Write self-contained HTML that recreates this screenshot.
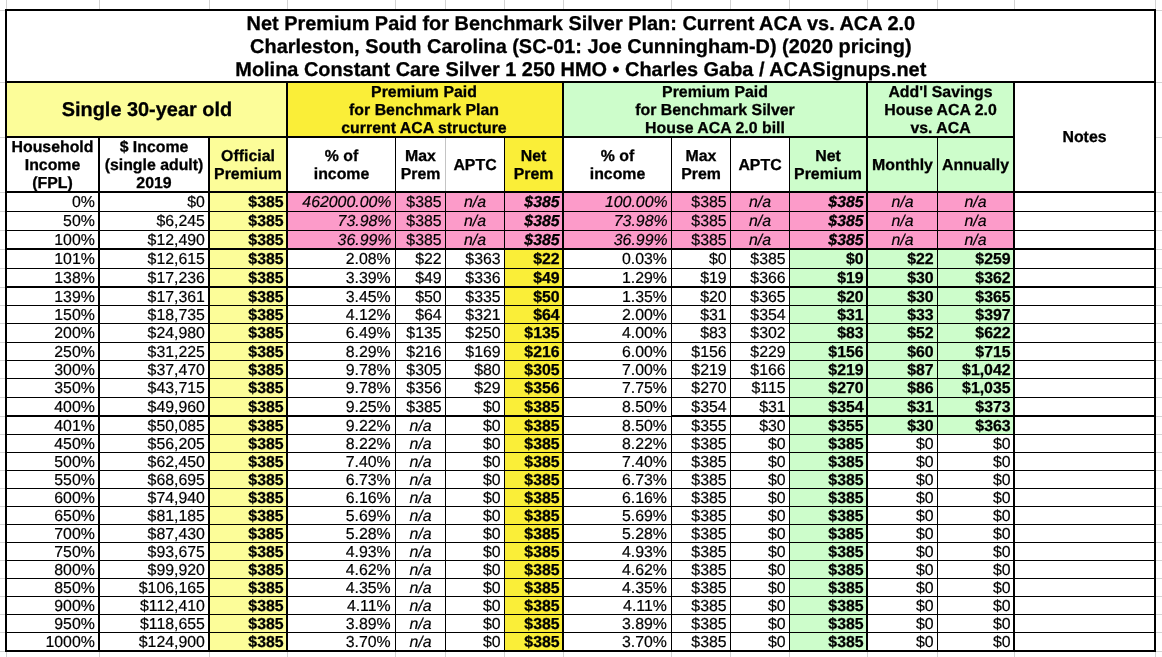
<!DOCTYPE html>
<html><head><meta charset="utf-8"><title>ACA 2.0 table</title>
<style>
html,body{margin:0;padding:0;background:#fff;}
body{width:1162px;height:657px;position:relative;overflow:hidden;font-family:"Liberation Sans",sans-serif;color:#000;}
svg{position:absolute;left:0;top:0;shape-rendering:crispEdges;}
#tx{position:absolute;left:0;top:0;width:1162px;height:657px;will-change:transform;}
.t{position:absolute;white-space:nowrap;text-rendering:geometricPrecision;-webkit-text-stroke:0.2px #000;}
.b{font-weight:bold;-webkit-text-stroke:0.3px #000;}
.i{font-style:italic;}
.bi{font-weight:bold;font-style:italic;-webkit-text-stroke:0.3px #000;}
</style></head><body>
<svg width="1162" height="657" viewBox="0 0 1162 657">
<rect x="6" y="0" width="1" height="657" fill="#d2d2d2"/>
<rect x="99" y="0" width="1" height="657" fill="#d2d2d2"/>
<rect x="209" y="0" width="1" height="657" fill="#d2d2d2"/>
<rect x="287" y="0" width="1" height="657" fill="#d2d2d2"/>
<rect x="395" y="0" width="1" height="657" fill="#d2d2d2"/>
<rect x="445" y="0" width="1" height="657" fill="#d2d2d2"/>
<rect x="504" y="0" width="1" height="657" fill="#d2d2d2"/>
<rect x="563" y="0" width="1" height="657" fill="#d2d2d2"/>
<rect x="671" y="0" width="1" height="657" fill="#d2d2d2"/>
<rect x="730" y="0" width="1" height="657" fill="#d2d2d2"/>
<rect x="789" y="0" width="1" height="657" fill="#d2d2d2"/>
<rect x="867" y="0" width="1" height="657" fill="#d2d2d2"/>
<rect x="937" y="0" width="1" height="657" fill="#d2d2d2"/>
<rect x="1014" y="0" width="1" height="657" fill="#d2d2d2"/>
<rect x="1155" y="0" width="1" height="657" fill="#d2d2d2"/>
<rect x="0" y="10" width="1162" height="1" fill="#d2d2d2"/>
<rect x="0" y="82" width="1162" height="1" fill="#d2d2d2"/>
<rect x="0" y="137" width="1162" height="1" fill="#d2d2d2"/>
<rect x="0" y="192" width="1162" height="1" fill="#d2d2d2"/>
<rect x="0" y="211" width="1162" height="1" fill="#d2d2d2"/>
<rect x="0" y="230" width="1162" height="1" fill="#d2d2d2"/>
<rect x="0" y="249" width="1162" height="1" fill="#d2d2d2"/>
<rect x="0" y="268" width="1162" height="1" fill="#d2d2d2"/>
<rect x="0" y="287" width="1162" height="1" fill="#d2d2d2"/>
<rect x="0" y="305" width="1162" height="1" fill="#d2d2d2"/>
<rect x="0" y="323" width="1162" height="1" fill="#d2d2d2"/>
<rect x="0" y="342" width="1162" height="1" fill="#d2d2d2"/>
<rect x="0" y="360" width="1162" height="1" fill="#d2d2d2"/>
<rect x="0" y="378" width="1162" height="1" fill="#d2d2d2"/>
<rect x="0" y="397" width="1162" height="1" fill="#d2d2d2"/>
<rect x="0" y="416" width="1162" height="1" fill="#d2d2d2"/>
<rect x="0" y="434" width="1162" height="1" fill="#d2d2d2"/>
<rect x="0" y="452" width="1162" height="1" fill="#d2d2d2"/>
<rect x="0" y="470" width="1162" height="1" fill="#d2d2d2"/>
<rect x="0" y="488" width="1162" height="1" fill="#d2d2d2"/>
<rect x="0" y="506" width="1162" height="1" fill="#d2d2d2"/>
<rect x="0" y="524" width="1162" height="1" fill="#d2d2d2"/>
<rect x="0" y="542" width="1162" height="1" fill="#d2d2d2"/>
<rect x="0" y="560" width="1162" height="1" fill="#d2d2d2"/>
<rect x="0" y="578" width="1162" height="1" fill="#d2d2d2"/>
<rect x="0" y="596" width="1162" height="1" fill="#d2d2d2"/>
<rect x="0" y="614" width="1162" height="1" fill="#d2d2d2"/>
<rect x="0" y="632" width="1162" height="1" fill="#d2d2d2"/>
<rect x="0" y="651" width="1162" height="1" fill="#d2d2d2"/>
<rect x="5" y="9" width="1151" height="643" fill="#fff"/>
<rect x="7" y="83" width="281" height="55" fill="#FCFD99"/>
<rect x="288" y="83" width="276" height="55" fill="#FAEE38"/>
<rect x="564" y="83" width="451" height="55" fill="#CDFDCB"/>
<rect x="210" y="138" width="78" height="514" fill="#FCFD99"/>
<rect x="505" y="138" width="59" height="514" fill="#FAEE38"/>
<rect x="790" y="138" width="225" height="55" fill="#CDFDCB"/>
<rect x="790" y="193" width="78" height="459" fill="#CDFDCB"/>
<rect x="868" y="250" width="147" height="185" fill="#CDFDCB"/>
<rect x="288" y="193" width="727" height="57" fill="#FC9BC9"/>
<rect x="445" y="138" width="1" height="55" fill="#c4c4c4"/>
<rect x="5" y="211" width="1151" height="1" fill="#000"/>
<rect x="5" y="230" width="1151" height="1" fill="#000"/>
<rect x="5" y="248" width="1151" height="2" fill="#000"/>
<rect x="5" y="268" width="1151" height="1" fill="#000"/>
<rect x="5" y="286" width="1151" height="2" fill="#000"/>
<rect x="5" y="305" width="1151" height="1" fill="#000"/>
<rect x="5" y="323" width="1151" height="1" fill="#000"/>
<rect x="5" y="342" width="1151" height="1" fill="#000"/>
<rect x="5" y="360" width="1151" height="1" fill="#000"/>
<rect x="5" y="378" width="1151" height="1" fill="#000"/>
<rect x="5" y="397" width="1151" height="1" fill="#000"/>
<rect x="5" y="415" width="1151" height="2" fill="#000"/>
<rect x="5" y="434" width="1151" height="1" fill="#000"/>
<rect x="5" y="452" width="1151" height="1" fill="#000"/>
<rect x="5" y="470" width="1151" height="1" fill="#000"/>
<rect x="5" y="488" width="1151" height="1" fill="#000"/>
<rect x="5" y="506" width="1151" height="1" fill="#000"/>
<rect x="5" y="524" width="1151" height="1" fill="#000"/>
<rect x="5" y="542" width="1151" height="1" fill="#000"/>
<rect x="5" y="560" width="1151" height="1" fill="#000"/>
<rect x="5" y="578" width="1151" height="1" fill="#000"/>
<rect x="5" y="596" width="1151" height="1" fill="#000"/>
<rect x="5" y="614" width="1151" height="1" fill="#000"/>
<rect x="5" y="632" width="1151" height="1" fill="#000"/>
<rect x="564" y="415" width="107" height="1" fill="#fff"/>
<rect x="5" y="191" width="1151" height="2" fill="#000"/>
<rect x="5" y="136" width="1010" height="2" fill="#000"/>
<rect x="5" y="81" width="1151" height="2" fill="#000"/>
<rect x="5" y="9" width="1151" height="2" fill="#000"/>
<rect x="5" y="650" width="1151" height="2" fill="#000"/>
<rect x="98" y="138" width="2" height="514" fill="#000"/>
<rect x="208" y="138" width="2" height="514" fill="#000"/>
<rect x="395" y="138" width="1" height="514" fill="#000"/>
<rect x="504" y="138" width="1" height="514" fill="#000"/>
<rect x="671" y="138" width="1" height="514" fill="#000"/>
<rect x="730" y="138" width="1" height="514" fill="#000"/>
<rect x="789" y="138" width="1" height="514" fill="#000"/>
<rect x="937" y="138" width="1" height="514" fill="#000"/>
<rect x="445" y="193" width="1" height="459" fill="#000"/>
<rect x="286" y="83" width="2" height="569" fill="#000"/>
<rect x="562" y="83" width="2" height="569" fill="#000"/>
<rect x="866" y="83" width="2" height="569" fill="#000"/>
<rect x="1013" y="83" width="2" height="569" fill="#000"/>
<rect x="5" y="9" width="2" height="643" fill="#000"/>
<rect x="1154" y="9" width="2" height="643" fill="#000"/>
</svg>
<div id="tx">
<div class="t b" style="left:-219.20px;width:1600px;top:13px;font-size:19.92px;line-height:23px;text-align:center">Net Premium Paid for Benchmark Silver Plan: Current ACA vs. ACA 2.0</div>
<div class="t b" style="left:-219.20px;width:1600px;top:36px;font-size:19.92px;line-height:23px;text-align:center">Charleston, South Carolina (SC-01: Joe Cunningham-D) (2020 pricing)</div>
<div class="t b" style="left:-219.20px;width:1600px;top:59px;font-size:19.92px;line-height:23px;text-align:center">Molina Constant Care Silver 1 250 HMO • Charles Gaba / ACASignups.net</div>
<div class="t b" style="left:-653.10px;width:1600px;top:99px;font-size:19.92px;line-height:23px;text-align:center">Single 30-year old</div>
<div class="t b" style="left:-376.00px;width:1600px;top:84px;font-size:15.87px;line-height:18px;text-align:center">Premium Paid</div>
<div class="t b" style="left:-376.00px;width:1600px;top:102px;font-size:15.87px;line-height:18px;text-align:center">for Benchmark Plan</div>
<div class="t b" style="left:-376.00px;width:1600px;top:120px;font-size:15.87px;line-height:18px;text-align:center">current ACA structure</div>
<div class="t b" style="left:-85.00px;width:1600px;top:84px;font-size:15.87px;line-height:18px;text-align:center">Premium Paid</div>
<div class="t b" style="left:-85.00px;width:1600px;top:102px;font-size:15.87px;line-height:18px;text-align:center">for Benchmark Silver</div>
<div class="t b" style="left:-85.00px;width:1600px;top:120px;font-size:15.87px;line-height:18px;text-align:center">House ACA 2.0 bill</div>
<div class="t b" style="left:140.50px;width:1600px;top:84px;font-size:15.87px;line-height:18px;text-align:center">Add'l Savings</div>
<div class="t b" style="left:140.50px;width:1600px;top:102px;font-size:15.87px;line-height:18px;text-align:center">House ACA 2.0</div>
<div class="t b" style="left:140.50px;width:1600px;top:120px;font-size:15.87px;line-height:18px;text-align:center">vs. ACA</div>
<div class="t b" style="left:-747.50px;width:1600px;top:139px;font-size:15.87px;line-height:18px;text-align:center">Household</div>
<div class="t b" style="left:-747.50px;width:1600px;top:157px;font-size:15.87px;line-height:18px;text-align:center">Income</div>
<div class="t b" style="left:-747.50px;width:1600px;top:175px;font-size:15.87px;line-height:18px;text-align:center">(FPL)</div>
<div class="t b" style="left:-646.00px;width:1600px;top:139px;font-size:15.87px;line-height:18px;text-align:center">$ Income</div>
<div class="t b" style="left:-646.00px;width:1600px;top:157px;font-size:15.87px;line-height:18px;text-align:center">(single adult)</div>
<div class="t b" style="left:-646.00px;width:1600px;top:175px;font-size:15.87px;line-height:18px;text-align:center">2019</div>
<div class="t b" style="left:-552.00px;width:1600px;top:148px;font-size:15.87px;line-height:18px;text-align:center">Official</div>
<div class="t b" style="left:-552.00px;width:1600px;top:166px;font-size:15.87px;line-height:18px;text-align:center">Premium</div>
<div class="t b" style="left:-458.50px;width:1600px;top:148px;font-size:15.87px;line-height:18px;text-align:center">% of</div>
<div class="t b" style="left:-458.50px;width:1600px;top:166px;font-size:15.87px;line-height:18px;text-align:center">income</div>
<div class="t b" style="left:-379.50px;width:1600px;top:148px;font-size:15.87px;line-height:18px;text-align:center">Max</div>
<div class="t b" style="left:-379.50px;width:1600px;top:166px;font-size:15.87px;line-height:18px;text-align:center">Prem</div>
<div class="t b" style="left:-325.00px;width:1600px;top:157px;font-size:15.87px;line-height:18px;text-align:center">APTC</div>
<div class="t b" style="left:-266.50px;width:1600px;top:148px;font-size:15.87px;line-height:18px;text-align:center">Net</div>
<div class="t b" style="left:-266.50px;width:1600px;top:166px;font-size:15.87px;line-height:18px;text-align:center">Prem</div>
<div class="t b" style="left:-182.50px;width:1600px;top:148px;font-size:15.87px;line-height:18px;text-align:center">% of</div>
<div class="t b" style="left:-182.50px;width:1600px;top:166px;font-size:15.87px;line-height:18px;text-align:center">income</div>
<div class="t b" style="left:-99.00px;width:1600px;top:148px;font-size:15.87px;line-height:18px;text-align:center">Max</div>
<div class="t b" style="left:-99.00px;width:1600px;top:166px;font-size:15.87px;line-height:18px;text-align:center">Prem</div>
<div class="t b" style="left:-40.00px;width:1600px;top:157px;font-size:15.87px;line-height:18px;text-align:center">APTC</div>
<div class="t b" style="left:28.00px;width:1600px;top:148px;font-size:15.87px;line-height:18px;text-align:center">Net</div>
<div class="t b" style="left:28.00px;width:1600px;top:166px;font-size:15.87px;line-height:18px;text-align:center">Premium</div>
<div class="t b" style="left:102.50px;width:1600px;top:157px;font-size:15.87px;line-height:18px;text-align:center">Monthly</div>
<div class="t b" style="left:175.50px;width:1600px;top:157px;font-size:15.87px;line-height:18px;text-align:center">Annually</div>
<div class="t b" style="left:284.50px;width:1600px;top:129px;font-size:15.87px;line-height:18px;text-align:center">Notes</div>
<div class="t r" style="left:-205.20px;width:300px;top:194px;font-size:15.87px;line-height:18px;text-align:right">0%</div>
<div class="t r" style="left:-95.10px;width:300px;top:194px;font-size:15.87px;line-height:18px;text-align:right">$0</div>
<div class="t b" style="left:-16.40px;width:300px;top:194px;font-size:15.87px;line-height:18px;text-align:right">$385</div>
<div class="t i" style="left:91.40px;width:300px;top:194px;font-size:15.87px;line-height:18px;text-align:right">462000.00%</div>
<div class="t r" style="left:141.60px;width:300px;top:194px;font-size:15.87px;line-height:18px;text-align:right">$385</div>
<div class="t i" style="left:-325.00px;width:1600px;top:194px;font-size:15.87px;line-height:18px;text-align:center">n/a</div>
<div class="t bi" style="left:259.60px;width:300px;top:194px;font-size:15.87px;line-height:18px;text-align:right">$385</div>
<div class="t i" style="left:367.60px;width:300px;top:194px;font-size:15.87px;line-height:18px;text-align:right">100.00%</div>
<div class="t r" style="left:426.60px;width:300px;top:194px;font-size:15.87px;line-height:18px;text-align:right">$385</div>
<div class="t i" style="left:-40.00px;width:1600px;top:194px;font-size:15.87px;line-height:18px;text-align:center">n/a</div>
<div class="t bi" style="left:563.60px;width:300px;top:194px;font-size:15.87px;line-height:18px;text-align:right">$385</div>
<div class="t i" style="left:102.50px;width:1600px;top:194px;font-size:15.87px;line-height:18px;text-align:center">n/a</div>
<div class="t i" style="left:175.50px;width:1600px;top:194px;font-size:15.87px;line-height:18px;text-align:center">n/a</div>
<div class="t r" style="left:-205.20px;width:300px;top:213px;font-size:15.87px;line-height:18px;text-align:right">50%</div>
<div class="t r" style="left:-95.10px;width:300px;top:213px;font-size:15.87px;line-height:18px;text-align:right">$6,245</div>
<div class="t b" style="left:-16.40px;width:300px;top:213px;font-size:15.87px;line-height:18px;text-align:right">$385</div>
<div class="t i" style="left:91.40px;width:300px;top:213px;font-size:15.87px;line-height:18px;text-align:right">73.98%</div>
<div class="t r" style="left:141.60px;width:300px;top:213px;font-size:15.87px;line-height:18px;text-align:right">$385</div>
<div class="t i" style="left:-325.00px;width:1600px;top:213px;font-size:15.87px;line-height:18px;text-align:center">n/a</div>
<div class="t bi" style="left:259.60px;width:300px;top:213px;font-size:15.87px;line-height:18px;text-align:right">$385</div>
<div class="t i" style="left:367.60px;width:300px;top:213px;font-size:15.87px;line-height:18px;text-align:right">73.98%</div>
<div class="t r" style="left:426.60px;width:300px;top:213px;font-size:15.87px;line-height:18px;text-align:right">$385</div>
<div class="t i" style="left:-40.00px;width:1600px;top:213px;font-size:15.87px;line-height:18px;text-align:center">n/a</div>
<div class="t bi" style="left:563.60px;width:300px;top:213px;font-size:15.87px;line-height:18px;text-align:right">$385</div>
<div class="t i" style="left:102.50px;width:1600px;top:213px;font-size:15.87px;line-height:18px;text-align:center">n/a</div>
<div class="t i" style="left:175.50px;width:1600px;top:213px;font-size:15.87px;line-height:18px;text-align:center">n/a</div>
<div class="t r" style="left:-205.20px;width:300px;top:232px;font-size:15.87px;line-height:18px;text-align:right">100%</div>
<div class="t r" style="left:-95.10px;width:300px;top:232px;font-size:15.87px;line-height:18px;text-align:right">$12,490</div>
<div class="t b" style="left:-16.40px;width:300px;top:232px;font-size:15.87px;line-height:18px;text-align:right">$385</div>
<div class="t i" style="left:91.40px;width:300px;top:232px;font-size:15.87px;line-height:18px;text-align:right">36.99%</div>
<div class="t r" style="left:141.60px;width:300px;top:232px;font-size:15.87px;line-height:18px;text-align:right">$385</div>
<div class="t i" style="left:-325.00px;width:1600px;top:232px;font-size:15.87px;line-height:18px;text-align:center">n/a</div>
<div class="t bi" style="left:259.60px;width:300px;top:232px;font-size:15.87px;line-height:18px;text-align:right">$385</div>
<div class="t i" style="left:367.60px;width:300px;top:232px;font-size:15.87px;line-height:18px;text-align:right">36.99%</div>
<div class="t r" style="left:426.60px;width:300px;top:232px;font-size:15.87px;line-height:18px;text-align:right">$385</div>
<div class="t i" style="left:-40.00px;width:1600px;top:232px;font-size:15.87px;line-height:18px;text-align:center">n/a</div>
<div class="t bi" style="left:563.60px;width:300px;top:232px;font-size:15.87px;line-height:18px;text-align:right">$385</div>
<div class="t i" style="left:102.50px;width:1600px;top:232px;font-size:15.87px;line-height:18px;text-align:center">n/a</div>
<div class="t i" style="left:175.50px;width:1600px;top:232px;font-size:15.87px;line-height:18px;text-align:center">n/a</div>
<div class="t r" style="left:-205.20px;width:300px;top:251px;font-size:15.87px;line-height:18px;text-align:right">101%</div>
<div class="t r" style="left:-95.10px;width:300px;top:251px;font-size:15.87px;line-height:18px;text-align:right">$12,615</div>
<div class="t b" style="left:-16.40px;width:300px;top:251px;font-size:15.87px;line-height:18px;text-align:right">$385</div>
<div class="t r" style="left:90.70px;width:300px;top:251px;font-size:15.87px;line-height:18px;text-align:right">2.08%</div>
<div class="t r" style="left:141.60px;width:300px;top:251px;font-size:15.87px;line-height:18px;text-align:right">$22</div>
<div class="t r" style="left:200.60px;width:300px;top:251px;font-size:15.87px;line-height:18px;text-align:right">$363</div>
<div class="t b" style="left:259.60px;width:300px;top:251px;font-size:15.87px;line-height:18px;text-align:right">$22</div>
<div class="t r" style="left:366.90px;width:300px;top:251px;font-size:15.87px;line-height:18px;text-align:right">0.03%</div>
<div class="t r" style="left:426.60px;width:300px;top:251px;font-size:15.87px;line-height:18px;text-align:right">$0</div>
<div class="t r" style="left:485.60px;width:300px;top:251px;font-size:15.87px;line-height:18px;text-align:right">$385</div>
<div class="t b" style="left:563.60px;width:300px;top:251px;font-size:15.87px;line-height:18px;text-align:right">$0</div>
<div class="t b" style="left:633.60px;width:300px;top:251px;font-size:15.87px;line-height:18px;text-align:right">$22</div>
<div class="t b" style="left:710.60px;width:300px;top:251px;font-size:15.87px;line-height:18px;text-align:right">$259</div>
<div class="t r" style="left:-205.20px;width:300px;top:270px;font-size:15.87px;line-height:18px;text-align:right">138%</div>
<div class="t r" style="left:-95.10px;width:300px;top:270px;font-size:15.87px;line-height:18px;text-align:right">$17,236</div>
<div class="t b" style="left:-16.40px;width:300px;top:270px;font-size:15.87px;line-height:18px;text-align:right">$385</div>
<div class="t r" style="left:90.70px;width:300px;top:270px;font-size:15.87px;line-height:18px;text-align:right">3.39%</div>
<div class="t r" style="left:141.60px;width:300px;top:270px;font-size:15.87px;line-height:18px;text-align:right">$49</div>
<div class="t r" style="left:200.60px;width:300px;top:270px;font-size:15.87px;line-height:18px;text-align:right">$336</div>
<div class="t b" style="left:259.60px;width:300px;top:270px;font-size:15.87px;line-height:18px;text-align:right">$49</div>
<div class="t r" style="left:366.90px;width:300px;top:270px;font-size:15.87px;line-height:18px;text-align:right">1.29%</div>
<div class="t r" style="left:426.60px;width:300px;top:270px;font-size:15.87px;line-height:18px;text-align:right">$19</div>
<div class="t r" style="left:485.60px;width:300px;top:270px;font-size:15.87px;line-height:18px;text-align:right">$366</div>
<div class="t b" style="left:563.60px;width:300px;top:270px;font-size:15.87px;line-height:18px;text-align:right">$19</div>
<div class="t b" style="left:633.60px;width:300px;top:270px;font-size:15.87px;line-height:18px;text-align:right">$30</div>
<div class="t b" style="left:710.60px;width:300px;top:270px;font-size:15.87px;line-height:18px;text-align:right">$362</div>
<div class="t r" style="left:-205.20px;width:300px;top:289px;font-size:15.87px;line-height:18px;text-align:right">139%</div>
<div class="t r" style="left:-95.10px;width:300px;top:289px;font-size:15.87px;line-height:18px;text-align:right">$17,361</div>
<div class="t b" style="left:-16.40px;width:300px;top:289px;font-size:15.87px;line-height:18px;text-align:right">$385</div>
<div class="t r" style="left:90.70px;width:300px;top:289px;font-size:15.87px;line-height:18px;text-align:right">3.45%</div>
<div class="t r" style="left:141.60px;width:300px;top:289px;font-size:15.87px;line-height:18px;text-align:right">$50</div>
<div class="t r" style="left:200.60px;width:300px;top:289px;font-size:15.87px;line-height:18px;text-align:right">$335</div>
<div class="t b" style="left:259.60px;width:300px;top:289px;font-size:15.87px;line-height:18px;text-align:right">$50</div>
<div class="t r" style="left:366.90px;width:300px;top:289px;font-size:15.87px;line-height:18px;text-align:right">1.35%</div>
<div class="t r" style="left:426.60px;width:300px;top:289px;font-size:15.87px;line-height:18px;text-align:right">$20</div>
<div class="t r" style="left:485.60px;width:300px;top:289px;font-size:15.87px;line-height:18px;text-align:right">$365</div>
<div class="t b" style="left:563.60px;width:300px;top:289px;font-size:15.87px;line-height:18px;text-align:right">$20</div>
<div class="t b" style="left:633.60px;width:300px;top:289px;font-size:15.87px;line-height:18px;text-align:right">$30</div>
<div class="t b" style="left:710.60px;width:300px;top:289px;font-size:15.87px;line-height:18px;text-align:right">$365</div>
<div class="t r" style="left:-205.20px;width:300px;top:307px;font-size:15.87px;line-height:18px;text-align:right">150%</div>
<div class="t r" style="left:-95.10px;width:300px;top:307px;font-size:15.87px;line-height:18px;text-align:right">$18,735</div>
<div class="t b" style="left:-16.40px;width:300px;top:307px;font-size:15.87px;line-height:18px;text-align:right">$385</div>
<div class="t r" style="left:90.70px;width:300px;top:307px;font-size:15.87px;line-height:18px;text-align:right">4.12%</div>
<div class="t r" style="left:141.60px;width:300px;top:307px;font-size:15.87px;line-height:18px;text-align:right">$64</div>
<div class="t r" style="left:200.60px;width:300px;top:307px;font-size:15.87px;line-height:18px;text-align:right">$321</div>
<div class="t b" style="left:259.60px;width:300px;top:307px;font-size:15.87px;line-height:18px;text-align:right">$64</div>
<div class="t r" style="left:366.90px;width:300px;top:307px;font-size:15.87px;line-height:18px;text-align:right">2.00%</div>
<div class="t r" style="left:426.60px;width:300px;top:307px;font-size:15.87px;line-height:18px;text-align:right">$31</div>
<div class="t r" style="left:485.60px;width:300px;top:307px;font-size:15.87px;line-height:18px;text-align:right">$354</div>
<div class="t b" style="left:563.60px;width:300px;top:307px;font-size:15.87px;line-height:18px;text-align:right">$31</div>
<div class="t b" style="left:633.60px;width:300px;top:307px;font-size:15.87px;line-height:18px;text-align:right">$33</div>
<div class="t b" style="left:710.60px;width:300px;top:307px;font-size:15.87px;line-height:18px;text-align:right">$397</div>
<div class="t r" style="left:-205.20px;width:300px;top:325px;font-size:15.87px;line-height:18px;text-align:right">200%</div>
<div class="t r" style="left:-95.10px;width:300px;top:325px;font-size:15.87px;line-height:18px;text-align:right">$24,980</div>
<div class="t b" style="left:-16.40px;width:300px;top:325px;font-size:15.87px;line-height:18px;text-align:right">$385</div>
<div class="t r" style="left:90.70px;width:300px;top:325px;font-size:15.87px;line-height:18px;text-align:right">6.49%</div>
<div class="t r" style="left:141.60px;width:300px;top:325px;font-size:15.87px;line-height:18px;text-align:right">$135</div>
<div class="t r" style="left:200.60px;width:300px;top:325px;font-size:15.87px;line-height:18px;text-align:right">$250</div>
<div class="t b" style="left:259.60px;width:300px;top:325px;font-size:15.87px;line-height:18px;text-align:right">$135</div>
<div class="t r" style="left:366.90px;width:300px;top:325px;font-size:15.87px;line-height:18px;text-align:right">4.00%</div>
<div class="t r" style="left:426.60px;width:300px;top:325px;font-size:15.87px;line-height:18px;text-align:right">$83</div>
<div class="t r" style="left:485.60px;width:300px;top:325px;font-size:15.87px;line-height:18px;text-align:right">$302</div>
<div class="t b" style="left:563.60px;width:300px;top:325px;font-size:15.87px;line-height:18px;text-align:right">$83</div>
<div class="t b" style="left:633.60px;width:300px;top:325px;font-size:15.87px;line-height:18px;text-align:right">$52</div>
<div class="t b" style="left:710.60px;width:300px;top:325px;font-size:15.87px;line-height:18px;text-align:right">$622</div>
<div class="t r" style="left:-205.20px;width:300px;top:344px;font-size:15.87px;line-height:18px;text-align:right">250%</div>
<div class="t r" style="left:-95.10px;width:300px;top:344px;font-size:15.87px;line-height:18px;text-align:right">$31,225</div>
<div class="t b" style="left:-16.40px;width:300px;top:344px;font-size:15.87px;line-height:18px;text-align:right">$385</div>
<div class="t r" style="left:90.70px;width:300px;top:344px;font-size:15.87px;line-height:18px;text-align:right">8.29%</div>
<div class="t r" style="left:141.60px;width:300px;top:344px;font-size:15.87px;line-height:18px;text-align:right">$216</div>
<div class="t r" style="left:200.60px;width:300px;top:344px;font-size:15.87px;line-height:18px;text-align:right">$169</div>
<div class="t b" style="left:259.60px;width:300px;top:344px;font-size:15.87px;line-height:18px;text-align:right">$216</div>
<div class="t r" style="left:366.90px;width:300px;top:344px;font-size:15.87px;line-height:18px;text-align:right">6.00%</div>
<div class="t r" style="left:426.60px;width:300px;top:344px;font-size:15.87px;line-height:18px;text-align:right">$156</div>
<div class="t r" style="left:485.60px;width:300px;top:344px;font-size:15.87px;line-height:18px;text-align:right">$229</div>
<div class="t b" style="left:563.60px;width:300px;top:344px;font-size:15.87px;line-height:18px;text-align:right">$156</div>
<div class="t b" style="left:633.60px;width:300px;top:344px;font-size:15.87px;line-height:18px;text-align:right">$60</div>
<div class="t b" style="left:710.60px;width:300px;top:344px;font-size:15.87px;line-height:18px;text-align:right">$715</div>
<div class="t r" style="left:-205.20px;width:300px;top:362px;font-size:15.87px;line-height:18px;text-align:right">300%</div>
<div class="t r" style="left:-95.10px;width:300px;top:362px;font-size:15.87px;line-height:18px;text-align:right">$37,470</div>
<div class="t b" style="left:-16.40px;width:300px;top:362px;font-size:15.87px;line-height:18px;text-align:right">$385</div>
<div class="t r" style="left:90.70px;width:300px;top:362px;font-size:15.87px;line-height:18px;text-align:right">9.78%</div>
<div class="t r" style="left:141.60px;width:300px;top:362px;font-size:15.87px;line-height:18px;text-align:right">$305</div>
<div class="t r" style="left:200.60px;width:300px;top:362px;font-size:15.87px;line-height:18px;text-align:right">$80</div>
<div class="t b" style="left:259.60px;width:300px;top:362px;font-size:15.87px;line-height:18px;text-align:right">$305</div>
<div class="t r" style="left:366.90px;width:300px;top:362px;font-size:15.87px;line-height:18px;text-align:right">7.00%</div>
<div class="t r" style="left:426.60px;width:300px;top:362px;font-size:15.87px;line-height:18px;text-align:right">$219</div>
<div class="t r" style="left:485.60px;width:300px;top:362px;font-size:15.87px;line-height:18px;text-align:right">$166</div>
<div class="t b" style="left:563.60px;width:300px;top:362px;font-size:15.87px;line-height:18px;text-align:right">$219</div>
<div class="t b" style="left:633.60px;width:300px;top:362px;font-size:15.87px;line-height:18px;text-align:right">$87</div>
<div class="t b" style="left:710.60px;width:300px;top:362px;font-size:15.87px;line-height:18px;text-align:right">$1,042</div>
<div class="t r" style="left:-205.20px;width:300px;top:380px;font-size:15.87px;line-height:18px;text-align:right">350%</div>
<div class="t r" style="left:-95.10px;width:300px;top:380px;font-size:15.87px;line-height:18px;text-align:right">$43,715</div>
<div class="t b" style="left:-16.40px;width:300px;top:380px;font-size:15.87px;line-height:18px;text-align:right">$385</div>
<div class="t r" style="left:90.70px;width:300px;top:380px;font-size:15.87px;line-height:18px;text-align:right">9.78%</div>
<div class="t r" style="left:141.60px;width:300px;top:380px;font-size:15.87px;line-height:18px;text-align:right">$356</div>
<div class="t r" style="left:200.60px;width:300px;top:380px;font-size:15.87px;line-height:18px;text-align:right">$29</div>
<div class="t b" style="left:259.60px;width:300px;top:380px;font-size:15.87px;line-height:18px;text-align:right">$356</div>
<div class="t r" style="left:366.90px;width:300px;top:380px;font-size:15.87px;line-height:18px;text-align:right">7.75%</div>
<div class="t r" style="left:426.60px;width:300px;top:380px;font-size:15.87px;line-height:18px;text-align:right">$270</div>
<div class="t r" style="left:485.60px;width:300px;top:380px;font-size:15.87px;line-height:18px;text-align:right">$115</div>
<div class="t b" style="left:563.60px;width:300px;top:380px;font-size:15.87px;line-height:18px;text-align:right">$270</div>
<div class="t b" style="left:633.60px;width:300px;top:380px;font-size:15.87px;line-height:18px;text-align:right">$86</div>
<div class="t b" style="left:710.60px;width:300px;top:380px;font-size:15.87px;line-height:18px;text-align:right">$1,035</div>
<div class="t r" style="left:-205.20px;width:300px;top:399px;font-size:15.87px;line-height:18px;text-align:right">400%</div>
<div class="t r" style="left:-95.10px;width:300px;top:399px;font-size:15.87px;line-height:18px;text-align:right">$49,960</div>
<div class="t b" style="left:-16.40px;width:300px;top:399px;font-size:15.87px;line-height:18px;text-align:right">$385</div>
<div class="t r" style="left:90.70px;width:300px;top:399px;font-size:15.87px;line-height:18px;text-align:right">9.25%</div>
<div class="t r" style="left:141.60px;width:300px;top:399px;font-size:15.87px;line-height:18px;text-align:right">$385</div>
<div class="t r" style="left:200.60px;width:300px;top:399px;font-size:15.87px;line-height:18px;text-align:right">$0</div>
<div class="t b" style="left:259.60px;width:300px;top:399px;font-size:15.87px;line-height:18px;text-align:right">$385</div>
<div class="t r" style="left:366.90px;width:300px;top:399px;font-size:15.87px;line-height:18px;text-align:right">8.50%</div>
<div class="t r" style="left:426.60px;width:300px;top:399px;font-size:15.87px;line-height:18px;text-align:right">$354</div>
<div class="t r" style="left:485.60px;width:300px;top:399px;font-size:15.87px;line-height:18px;text-align:right">$31</div>
<div class="t b" style="left:563.60px;width:300px;top:399px;font-size:15.87px;line-height:18px;text-align:right">$354</div>
<div class="t b" style="left:633.60px;width:300px;top:399px;font-size:15.87px;line-height:18px;text-align:right">$31</div>
<div class="t b" style="left:710.60px;width:300px;top:399px;font-size:15.87px;line-height:18px;text-align:right">$373</div>
<div class="t r" style="left:-205.20px;width:300px;top:418px;font-size:15.87px;line-height:18px;text-align:right">401%</div>
<div class="t r" style="left:-95.10px;width:300px;top:418px;font-size:15.87px;line-height:18px;text-align:right">$50,085</div>
<div class="t b" style="left:-16.40px;width:300px;top:418px;font-size:15.87px;line-height:18px;text-align:right">$385</div>
<div class="t r" style="left:90.70px;width:300px;top:418px;font-size:15.87px;line-height:18px;text-align:right">9.22%</div>
<div class="t i" style="left:-379.50px;width:1600px;top:418px;font-size:15.87px;line-height:18px;text-align:center">n/a</div>
<div class="t r" style="left:200.60px;width:300px;top:418px;font-size:15.87px;line-height:18px;text-align:right">$0</div>
<div class="t b" style="left:259.60px;width:300px;top:418px;font-size:15.87px;line-height:18px;text-align:right">$385</div>
<div class="t r" style="left:366.90px;width:300px;top:418px;font-size:15.87px;line-height:18px;text-align:right">8.50%</div>
<div class="t r" style="left:426.60px;width:300px;top:418px;font-size:15.87px;line-height:18px;text-align:right">$355</div>
<div class="t r" style="left:485.60px;width:300px;top:418px;font-size:15.87px;line-height:18px;text-align:right">$30</div>
<div class="t b" style="left:563.60px;width:300px;top:418px;font-size:15.87px;line-height:18px;text-align:right">$355</div>
<div class="t b" style="left:633.60px;width:300px;top:418px;font-size:15.87px;line-height:18px;text-align:right">$30</div>
<div class="t b" style="left:710.60px;width:300px;top:418px;font-size:15.87px;line-height:18px;text-align:right">$363</div>
<div class="t r" style="left:-205.20px;width:300px;top:436px;font-size:15.87px;line-height:18px;text-align:right">450%</div>
<div class="t r" style="left:-95.10px;width:300px;top:436px;font-size:15.87px;line-height:18px;text-align:right">$56,205</div>
<div class="t b" style="left:-16.40px;width:300px;top:436px;font-size:15.87px;line-height:18px;text-align:right">$385</div>
<div class="t r" style="left:90.70px;width:300px;top:436px;font-size:15.87px;line-height:18px;text-align:right">8.22%</div>
<div class="t i" style="left:-379.50px;width:1600px;top:436px;font-size:15.87px;line-height:18px;text-align:center">n/a</div>
<div class="t r" style="left:200.60px;width:300px;top:436px;font-size:15.87px;line-height:18px;text-align:right">$0</div>
<div class="t b" style="left:259.60px;width:300px;top:436px;font-size:15.87px;line-height:18px;text-align:right">$385</div>
<div class="t r" style="left:366.90px;width:300px;top:436px;font-size:15.87px;line-height:18px;text-align:right">8.22%</div>
<div class="t r" style="left:426.60px;width:300px;top:436px;font-size:15.87px;line-height:18px;text-align:right">$385</div>
<div class="t r" style="left:485.60px;width:300px;top:436px;font-size:15.87px;line-height:18px;text-align:right">$0</div>
<div class="t b" style="left:563.60px;width:300px;top:436px;font-size:15.87px;line-height:18px;text-align:right">$385</div>
<div class="t r" style="left:633.60px;width:300px;top:436px;font-size:15.87px;line-height:18px;text-align:right">$0</div>
<div class="t r" style="left:710.60px;width:300px;top:436px;font-size:15.87px;line-height:18px;text-align:right">$0</div>
<div class="t r" style="left:-205.20px;width:300px;top:454px;font-size:15.87px;line-height:18px;text-align:right">500%</div>
<div class="t r" style="left:-95.10px;width:300px;top:454px;font-size:15.87px;line-height:18px;text-align:right">$62,450</div>
<div class="t b" style="left:-16.40px;width:300px;top:454px;font-size:15.87px;line-height:18px;text-align:right">$385</div>
<div class="t r" style="left:90.70px;width:300px;top:454px;font-size:15.87px;line-height:18px;text-align:right">7.40%</div>
<div class="t i" style="left:-379.50px;width:1600px;top:454px;font-size:15.87px;line-height:18px;text-align:center">n/a</div>
<div class="t r" style="left:200.60px;width:300px;top:454px;font-size:15.87px;line-height:18px;text-align:right">$0</div>
<div class="t b" style="left:259.60px;width:300px;top:454px;font-size:15.87px;line-height:18px;text-align:right">$385</div>
<div class="t r" style="left:366.90px;width:300px;top:454px;font-size:15.87px;line-height:18px;text-align:right">7.40%</div>
<div class="t r" style="left:426.60px;width:300px;top:454px;font-size:15.87px;line-height:18px;text-align:right">$385</div>
<div class="t r" style="left:485.60px;width:300px;top:454px;font-size:15.87px;line-height:18px;text-align:right">$0</div>
<div class="t b" style="left:563.60px;width:300px;top:454px;font-size:15.87px;line-height:18px;text-align:right">$385</div>
<div class="t r" style="left:633.60px;width:300px;top:454px;font-size:15.87px;line-height:18px;text-align:right">$0</div>
<div class="t r" style="left:710.60px;width:300px;top:454px;font-size:15.87px;line-height:18px;text-align:right">$0</div>
<div class="t r" style="left:-205.20px;width:300px;top:472px;font-size:15.87px;line-height:18px;text-align:right">550%</div>
<div class="t r" style="left:-95.10px;width:300px;top:472px;font-size:15.87px;line-height:18px;text-align:right">$68,695</div>
<div class="t b" style="left:-16.40px;width:300px;top:472px;font-size:15.87px;line-height:18px;text-align:right">$385</div>
<div class="t r" style="left:90.70px;width:300px;top:472px;font-size:15.87px;line-height:18px;text-align:right">6.73%</div>
<div class="t i" style="left:-379.50px;width:1600px;top:472px;font-size:15.87px;line-height:18px;text-align:center">n/a</div>
<div class="t r" style="left:200.60px;width:300px;top:472px;font-size:15.87px;line-height:18px;text-align:right">$0</div>
<div class="t b" style="left:259.60px;width:300px;top:472px;font-size:15.87px;line-height:18px;text-align:right">$385</div>
<div class="t r" style="left:366.90px;width:300px;top:472px;font-size:15.87px;line-height:18px;text-align:right">6.73%</div>
<div class="t r" style="left:426.60px;width:300px;top:472px;font-size:15.87px;line-height:18px;text-align:right">$385</div>
<div class="t r" style="left:485.60px;width:300px;top:472px;font-size:15.87px;line-height:18px;text-align:right">$0</div>
<div class="t b" style="left:563.60px;width:300px;top:472px;font-size:15.87px;line-height:18px;text-align:right">$385</div>
<div class="t r" style="left:633.60px;width:300px;top:472px;font-size:15.87px;line-height:18px;text-align:right">$0</div>
<div class="t r" style="left:710.60px;width:300px;top:472px;font-size:15.87px;line-height:18px;text-align:right">$0</div>
<div class="t r" style="left:-205.20px;width:300px;top:490px;font-size:15.87px;line-height:18px;text-align:right">600%</div>
<div class="t r" style="left:-95.10px;width:300px;top:490px;font-size:15.87px;line-height:18px;text-align:right">$74,940</div>
<div class="t b" style="left:-16.40px;width:300px;top:490px;font-size:15.87px;line-height:18px;text-align:right">$385</div>
<div class="t r" style="left:90.70px;width:300px;top:490px;font-size:15.87px;line-height:18px;text-align:right">6.16%</div>
<div class="t i" style="left:-379.50px;width:1600px;top:490px;font-size:15.87px;line-height:18px;text-align:center">n/a</div>
<div class="t r" style="left:200.60px;width:300px;top:490px;font-size:15.87px;line-height:18px;text-align:right">$0</div>
<div class="t b" style="left:259.60px;width:300px;top:490px;font-size:15.87px;line-height:18px;text-align:right">$385</div>
<div class="t r" style="left:366.90px;width:300px;top:490px;font-size:15.87px;line-height:18px;text-align:right">6.16%</div>
<div class="t r" style="left:426.60px;width:300px;top:490px;font-size:15.87px;line-height:18px;text-align:right">$385</div>
<div class="t r" style="left:485.60px;width:300px;top:490px;font-size:15.87px;line-height:18px;text-align:right">$0</div>
<div class="t b" style="left:563.60px;width:300px;top:490px;font-size:15.87px;line-height:18px;text-align:right">$385</div>
<div class="t r" style="left:633.60px;width:300px;top:490px;font-size:15.87px;line-height:18px;text-align:right">$0</div>
<div class="t r" style="left:710.60px;width:300px;top:490px;font-size:15.87px;line-height:18px;text-align:right">$0</div>
<div class="t r" style="left:-205.20px;width:300px;top:508px;font-size:15.87px;line-height:18px;text-align:right">650%</div>
<div class="t r" style="left:-95.10px;width:300px;top:508px;font-size:15.87px;line-height:18px;text-align:right">$81,185</div>
<div class="t b" style="left:-16.40px;width:300px;top:508px;font-size:15.87px;line-height:18px;text-align:right">$385</div>
<div class="t r" style="left:90.70px;width:300px;top:508px;font-size:15.87px;line-height:18px;text-align:right">5.69%</div>
<div class="t i" style="left:-379.50px;width:1600px;top:508px;font-size:15.87px;line-height:18px;text-align:center">n/a</div>
<div class="t r" style="left:200.60px;width:300px;top:508px;font-size:15.87px;line-height:18px;text-align:right">$0</div>
<div class="t b" style="left:259.60px;width:300px;top:508px;font-size:15.87px;line-height:18px;text-align:right">$385</div>
<div class="t r" style="left:366.90px;width:300px;top:508px;font-size:15.87px;line-height:18px;text-align:right">5.69%</div>
<div class="t r" style="left:426.60px;width:300px;top:508px;font-size:15.87px;line-height:18px;text-align:right">$385</div>
<div class="t r" style="left:485.60px;width:300px;top:508px;font-size:15.87px;line-height:18px;text-align:right">$0</div>
<div class="t b" style="left:563.60px;width:300px;top:508px;font-size:15.87px;line-height:18px;text-align:right">$385</div>
<div class="t r" style="left:633.60px;width:300px;top:508px;font-size:15.87px;line-height:18px;text-align:right">$0</div>
<div class="t r" style="left:710.60px;width:300px;top:508px;font-size:15.87px;line-height:18px;text-align:right">$0</div>
<div class="t r" style="left:-205.20px;width:300px;top:526px;font-size:15.87px;line-height:18px;text-align:right">700%</div>
<div class="t r" style="left:-95.10px;width:300px;top:526px;font-size:15.87px;line-height:18px;text-align:right">$87,430</div>
<div class="t b" style="left:-16.40px;width:300px;top:526px;font-size:15.87px;line-height:18px;text-align:right">$385</div>
<div class="t r" style="left:90.70px;width:300px;top:526px;font-size:15.87px;line-height:18px;text-align:right">5.28%</div>
<div class="t i" style="left:-379.50px;width:1600px;top:526px;font-size:15.87px;line-height:18px;text-align:center">n/a</div>
<div class="t r" style="left:200.60px;width:300px;top:526px;font-size:15.87px;line-height:18px;text-align:right">$0</div>
<div class="t b" style="left:259.60px;width:300px;top:526px;font-size:15.87px;line-height:18px;text-align:right">$385</div>
<div class="t r" style="left:366.90px;width:300px;top:526px;font-size:15.87px;line-height:18px;text-align:right">5.28%</div>
<div class="t r" style="left:426.60px;width:300px;top:526px;font-size:15.87px;line-height:18px;text-align:right">$385</div>
<div class="t r" style="left:485.60px;width:300px;top:526px;font-size:15.87px;line-height:18px;text-align:right">$0</div>
<div class="t b" style="left:563.60px;width:300px;top:526px;font-size:15.87px;line-height:18px;text-align:right">$385</div>
<div class="t r" style="left:633.60px;width:300px;top:526px;font-size:15.87px;line-height:18px;text-align:right">$0</div>
<div class="t r" style="left:710.60px;width:300px;top:526px;font-size:15.87px;line-height:18px;text-align:right">$0</div>
<div class="t r" style="left:-205.20px;width:300px;top:544px;font-size:15.87px;line-height:18px;text-align:right">750%</div>
<div class="t r" style="left:-95.10px;width:300px;top:544px;font-size:15.87px;line-height:18px;text-align:right">$93,675</div>
<div class="t b" style="left:-16.40px;width:300px;top:544px;font-size:15.87px;line-height:18px;text-align:right">$385</div>
<div class="t r" style="left:90.70px;width:300px;top:544px;font-size:15.87px;line-height:18px;text-align:right">4.93%</div>
<div class="t i" style="left:-379.50px;width:1600px;top:544px;font-size:15.87px;line-height:18px;text-align:center">n/a</div>
<div class="t r" style="left:200.60px;width:300px;top:544px;font-size:15.87px;line-height:18px;text-align:right">$0</div>
<div class="t b" style="left:259.60px;width:300px;top:544px;font-size:15.87px;line-height:18px;text-align:right">$385</div>
<div class="t r" style="left:366.90px;width:300px;top:544px;font-size:15.87px;line-height:18px;text-align:right">4.93%</div>
<div class="t r" style="left:426.60px;width:300px;top:544px;font-size:15.87px;line-height:18px;text-align:right">$385</div>
<div class="t r" style="left:485.60px;width:300px;top:544px;font-size:15.87px;line-height:18px;text-align:right">$0</div>
<div class="t b" style="left:563.60px;width:300px;top:544px;font-size:15.87px;line-height:18px;text-align:right">$385</div>
<div class="t r" style="left:633.60px;width:300px;top:544px;font-size:15.87px;line-height:18px;text-align:right">$0</div>
<div class="t r" style="left:710.60px;width:300px;top:544px;font-size:15.87px;line-height:18px;text-align:right">$0</div>
<div class="t r" style="left:-205.20px;width:300px;top:562px;font-size:15.87px;line-height:18px;text-align:right">800%</div>
<div class="t r" style="left:-95.10px;width:300px;top:562px;font-size:15.87px;line-height:18px;text-align:right">$99,920</div>
<div class="t b" style="left:-16.40px;width:300px;top:562px;font-size:15.87px;line-height:18px;text-align:right">$385</div>
<div class="t r" style="left:90.70px;width:300px;top:562px;font-size:15.87px;line-height:18px;text-align:right">4.62%</div>
<div class="t i" style="left:-379.50px;width:1600px;top:562px;font-size:15.87px;line-height:18px;text-align:center">n/a</div>
<div class="t r" style="left:200.60px;width:300px;top:562px;font-size:15.87px;line-height:18px;text-align:right">$0</div>
<div class="t b" style="left:259.60px;width:300px;top:562px;font-size:15.87px;line-height:18px;text-align:right">$385</div>
<div class="t r" style="left:366.90px;width:300px;top:562px;font-size:15.87px;line-height:18px;text-align:right">4.62%</div>
<div class="t r" style="left:426.60px;width:300px;top:562px;font-size:15.87px;line-height:18px;text-align:right">$385</div>
<div class="t r" style="left:485.60px;width:300px;top:562px;font-size:15.87px;line-height:18px;text-align:right">$0</div>
<div class="t b" style="left:563.60px;width:300px;top:562px;font-size:15.87px;line-height:18px;text-align:right">$385</div>
<div class="t r" style="left:633.60px;width:300px;top:562px;font-size:15.87px;line-height:18px;text-align:right">$0</div>
<div class="t r" style="left:710.60px;width:300px;top:562px;font-size:15.87px;line-height:18px;text-align:right">$0</div>
<div class="t r" style="left:-205.20px;width:300px;top:580px;font-size:15.87px;line-height:18px;text-align:right">850%</div>
<div class="t r" style="left:-95.10px;width:300px;top:580px;font-size:15.87px;line-height:18px;text-align:right">$106,165</div>
<div class="t b" style="left:-16.40px;width:300px;top:580px;font-size:15.87px;line-height:18px;text-align:right">$385</div>
<div class="t r" style="left:90.70px;width:300px;top:580px;font-size:15.87px;line-height:18px;text-align:right">4.35%</div>
<div class="t i" style="left:-379.50px;width:1600px;top:580px;font-size:15.87px;line-height:18px;text-align:center">n/a</div>
<div class="t r" style="left:200.60px;width:300px;top:580px;font-size:15.87px;line-height:18px;text-align:right">$0</div>
<div class="t b" style="left:259.60px;width:300px;top:580px;font-size:15.87px;line-height:18px;text-align:right">$385</div>
<div class="t r" style="left:366.90px;width:300px;top:580px;font-size:15.87px;line-height:18px;text-align:right">4.35%</div>
<div class="t r" style="left:426.60px;width:300px;top:580px;font-size:15.87px;line-height:18px;text-align:right">$385</div>
<div class="t r" style="left:485.60px;width:300px;top:580px;font-size:15.87px;line-height:18px;text-align:right">$0</div>
<div class="t b" style="left:563.60px;width:300px;top:580px;font-size:15.87px;line-height:18px;text-align:right">$385</div>
<div class="t r" style="left:633.60px;width:300px;top:580px;font-size:15.87px;line-height:18px;text-align:right">$0</div>
<div class="t r" style="left:710.60px;width:300px;top:580px;font-size:15.87px;line-height:18px;text-align:right">$0</div>
<div class="t r" style="left:-205.20px;width:300px;top:598px;font-size:15.87px;line-height:18px;text-align:right">900%</div>
<div class="t r" style="left:-95.10px;width:300px;top:598px;font-size:15.87px;line-height:18px;text-align:right">$112,410</div>
<div class="t b" style="left:-16.40px;width:300px;top:598px;font-size:15.87px;line-height:18px;text-align:right">$385</div>
<div class="t r" style="left:90.70px;width:300px;top:598px;font-size:15.87px;line-height:18px;text-align:right">4.11%</div>
<div class="t i" style="left:-379.50px;width:1600px;top:598px;font-size:15.87px;line-height:18px;text-align:center">n/a</div>
<div class="t r" style="left:200.60px;width:300px;top:598px;font-size:15.87px;line-height:18px;text-align:right">$0</div>
<div class="t b" style="left:259.60px;width:300px;top:598px;font-size:15.87px;line-height:18px;text-align:right">$385</div>
<div class="t r" style="left:366.90px;width:300px;top:598px;font-size:15.87px;line-height:18px;text-align:right">4.11%</div>
<div class="t r" style="left:426.60px;width:300px;top:598px;font-size:15.87px;line-height:18px;text-align:right">$385</div>
<div class="t r" style="left:485.60px;width:300px;top:598px;font-size:15.87px;line-height:18px;text-align:right">$0</div>
<div class="t b" style="left:563.60px;width:300px;top:598px;font-size:15.87px;line-height:18px;text-align:right">$385</div>
<div class="t r" style="left:633.60px;width:300px;top:598px;font-size:15.87px;line-height:18px;text-align:right">$0</div>
<div class="t r" style="left:710.60px;width:300px;top:598px;font-size:15.87px;line-height:18px;text-align:right">$0</div>
<div class="t r" style="left:-205.20px;width:300px;top:616px;font-size:15.87px;line-height:18px;text-align:right">950%</div>
<div class="t r" style="left:-95.10px;width:300px;top:616px;font-size:15.87px;line-height:18px;text-align:right">$118,655</div>
<div class="t b" style="left:-16.40px;width:300px;top:616px;font-size:15.87px;line-height:18px;text-align:right">$385</div>
<div class="t r" style="left:90.70px;width:300px;top:616px;font-size:15.87px;line-height:18px;text-align:right">3.89%</div>
<div class="t i" style="left:-379.50px;width:1600px;top:616px;font-size:15.87px;line-height:18px;text-align:center">n/a</div>
<div class="t r" style="left:200.60px;width:300px;top:616px;font-size:15.87px;line-height:18px;text-align:right">$0</div>
<div class="t b" style="left:259.60px;width:300px;top:616px;font-size:15.87px;line-height:18px;text-align:right">$385</div>
<div class="t r" style="left:366.90px;width:300px;top:616px;font-size:15.87px;line-height:18px;text-align:right">3.89%</div>
<div class="t r" style="left:426.60px;width:300px;top:616px;font-size:15.87px;line-height:18px;text-align:right">$385</div>
<div class="t r" style="left:485.60px;width:300px;top:616px;font-size:15.87px;line-height:18px;text-align:right">$0</div>
<div class="t b" style="left:563.60px;width:300px;top:616px;font-size:15.87px;line-height:18px;text-align:right">$385</div>
<div class="t r" style="left:633.60px;width:300px;top:616px;font-size:15.87px;line-height:18px;text-align:right">$0</div>
<div class="t r" style="left:710.60px;width:300px;top:616px;font-size:15.87px;line-height:18px;text-align:right">$0</div>
<div class="t r" style="left:-205.20px;width:300px;top:634px;font-size:15.87px;line-height:18px;text-align:right">1000%</div>
<div class="t r" style="left:-95.10px;width:300px;top:634px;font-size:15.87px;line-height:18px;text-align:right">$124,900</div>
<div class="t b" style="left:-16.40px;width:300px;top:634px;font-size:15.87px;line-height:18px;text-align:right">$385</div>
<div class="t r" style="left:90.70px;width:300px;top:634px;font-size:15.87px;line-height:18px;text-align:right">3.70%</div>
<div class="t i" style="left:-379.50px;width:1600px;top:634px;font-size:15.87px;line-height:18px;text-align:center">n/a</div>
<div class="t r" style="left:200.60px;width:300px;top:634px;font-size:15.87px;line-height:18px;text-align:right">$0</div>
<div class="t b" style="left:259.60px;width:300px;top:634px;font-size:15.87px;line-height:18px;text-align:right">$385</div>
<div class="t r" style="left:366.90px;width:300px;top:634px;font-size:15.87px;line-height:18px;text-align:right">3.70%</div>
<div class="t r" style="left:426.60px;width:300px;top:634px;font-size:15.87px;line-height:18px;text-align:right">$385</div>
<div class="t r" style="left:485.60px;width:300px;top:634px;font-size:15.87px;line-height:18px;text-align:right">$0</div>
<div class="t b" style="left:563.60px;width:300px;top:634px;font-size:15.87px;line-height:18px;text-align:right">$385</div>
<div class="t r" style="left:633.60px;width:300px;top:634px;font-size:15.87px;line-height:18px;text-align:right">$0</div>
<div class="t r" style="left:710.60px;width:300px;top:634px;font-size:15.87px;line-height:18px;text-align:right">$0</div>
</div>
</body></html>
